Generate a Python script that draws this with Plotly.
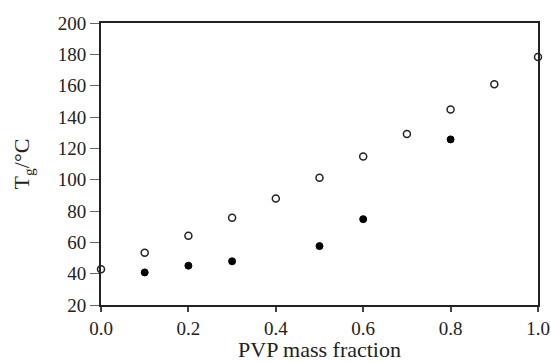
import plotly.graph_objects as go

open_x = [0.0, 0.1, 0.2, 0.3, 0.4, 0.5, 0.6, 0.7, 0.8, 0.9, 1.0]
open_tg = [42.8, 53.4, 64.2, 75.7, 88.0, 101.2, 114.8, 129.2, 144.8, 160.9, 178.3]
filled_x = [0.1, 0.2, 0.3, 0.5, 0.6, 0.8]
filled_tg = [40.8, 45.1, 47.9, 57.6, 74.8, 125.7]

x_ticks = [0.0, 0.2, 0.4, 0.6, 0.8, 1.0]
x_tick_labels = ["0.0", "0.2", "0.4", "0.6", "0.8", "1.0"]
y_ticks = [20, 40, 60, 80, 100, 120, 140, 160, 180, 200]

fig = go.Figure()
fig.add_trace(go.Scatter(
    x=filled_x, y=filled_tg, mode="markers",
    marker=dict(symbol="circle", size=7, color="black", line=dict(color="black", width=1)),
    showlegend=False, cliponaxis=False))
fig.add_trace(go.Scatter(
    x=open_x, y=open_tg, mode="markers",
    marker=dict(symbol="circle-open", size=7, color="#222", line=dict(color="#222", width=1.5)),
    showlegend=False, cliponaxis=False))

font = "Liberation Serif, Times New Roman, serif"
fig.update_layout(
    width=551, height=362,
    margin=dict(l=101, r=13, t=23, b=57),
    paper_bgcolor="white", plot_bgcolor="white",
    font=dict(family=font, color="#222", size=19),
    xaxis=dict(range=[0, 1], tickvals=x_ticks, ticktext=x_tick_labels, automargin=False,
               showgrid=False, zeroline=False, showline=True, linecolor="#222", linewidth=2,
               mirror=True, ticks="outside", ticklen=5, tickwidth=1.5, tickcolor="#444",
               tickfont=dict(size=19, family=font),
               title=dict(text="PVP mass fraction", font=dict(size=22, family=font), standoff=14)),
    yaxis=dict(range=[20, 200], tickvals=y_ticks, automargin=False,
               showgrid=False, zeroline=False, showline=True, linecolor="#222", linewidth=2,
               mirror=True, ticks="outside", ticklen=9, tickwidth=1.2, tickcolor="#666",
               tickfont=dict(size=19, family=font),
               title=dict(text="T<sub>g</sub>/°C", font=dict(size=22, family=font), standoff=22)),
)
fig.write_html("out.html", config={"displayModeBar": False},
               post_script="document.body.style.margin='0';document.body.style.overflow='hidden';")
